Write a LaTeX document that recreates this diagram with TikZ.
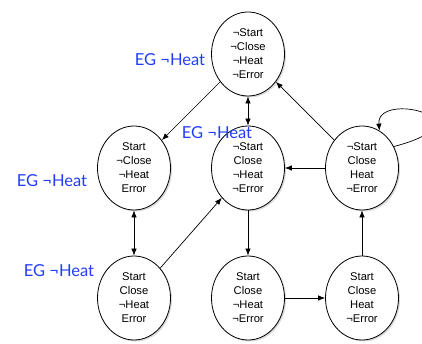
\documentclass[tikz,border=0pt]{standalone}
\usepackage{fontspec}
\setmainfont{Liberation Sans}
\newfontfamily\egfont{Lato}
\usetikzlibrary{shapes.geometric,shadows,arrows.meta}
\definecolor{egblue}{RGB}{35,60,250}
\begin{document}
\begin{tikzpicture}[x=1pt,y=-1pt,
	state/.style = {shape=ellipse, draw, line width=0.8pt, fill=white,
		minimum width=73pt, minimum height=84pt, inner sep=0pt, align=center,
		font=\fontsize{11.2}{14}\selectfont,
		drop shadow={shadow xshift=1.5pt, shadow yshift=-1.5pt, opacity=0.3}},
	eg/.style = {text=egblue, font=\egfont\fontsize{16.5}{18}\selectfont, inner sep=0pt},
	>={Latex[length=7pt,width=5.5pt]}, line width=0.7pt]
\clip (0,0) rectangle (422,344);
\node[state] (idle) at (248,54) {¬Start\\¬Close\\¬Heat\\¬Error};
\node[state] (start) at (134,168) {Start\\¬Close\\¬Heat\\Error};
\node[state] (closed) at (248,168) {¬Start\\Close\\¬Heat\\¬Error};
\node[state] (heat) at (362,168) {¬Start\\Close\\Heat\\¬Error};
\node[state] (startErr) at (134,298) {Start\\Close\\¬Heat\\Error};
\node[state] (startClose) at (248,298) {Start\\Close\\¬Heat\\¬Error};
\node[state] (startHeat) at (362,298) {Start\\Close\\Heat\\¬Error};
\draw[->] (idle) -- (start);
\draw[<->] (idle) -- (closed);
\draw[->] (heat) -- (idle);
\draw[->] (heat) -- (closed);
\draw[->] (heat.34) .. controls (495,120) and (376,90) .. (heat.65);
\draw[<->] (start) -- (startErr);
\draw[->] (startErr) -- (closed);
\draw[->] (closed) -- (startClose);
\draw[->] (startClose) -- (startHeat);
\draw[->] (startHeat) -- (heat);
\node[eg] (egIdle) at (170,60) {EG ¬Heat};
\node[eg] (egClosed) at (217,133) {EG ¬Heat};
\node[eg] (egStart) at (52,181) {EG ¬Heat};
\node[eg] (egStartErr) at (59,271) {EG ¬Heat};
\end{tikzpicture}
\end{document}
